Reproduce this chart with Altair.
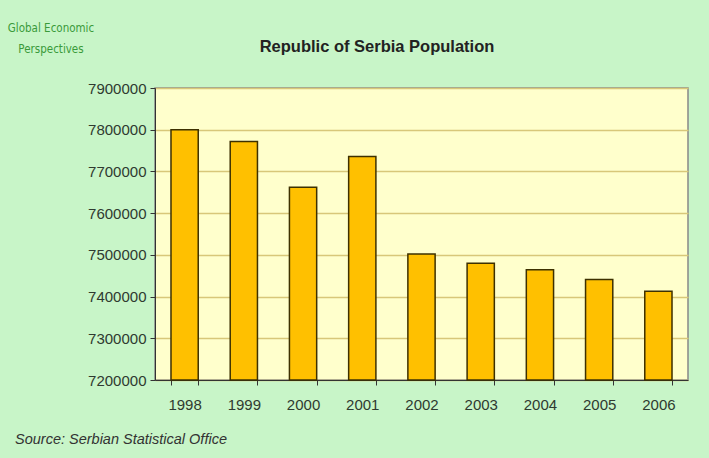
import altair as alt
import pandas as pd

years = ["1998", "1999", "2000", "2001", "2002", "2003", "2004", "2005", "2006"]
population = [7800000, 7772000, 7662000, 7736000, 7502000, 7480000, 7464000, 7441000, 7413000]
y_ticks = [7200000, 7300000, 7400000, 7500000, 7600000, 7700000, 7800000, 7900000]
y_min, y_max = 7200000, 7900000

df = pd.DataFrame({"year": years, "population": population})

label_color = "#2f3a30"

bars = alt.Chart(df).mark_bar(
    color="#ffc000", stroke="#3d3000", strokeWidth=1.5
).encode(
    x=alt.X("year:N", sort=years,
            scale=alt.Scale(paddingInner=0.54, paddingOuter=0.27),
            axis=alt.Axis(title=None, labelAngle=0, tickBand="extent",
                          labelFontSize=15, labelFont="Arial, Liberation Sans",
                          labelColor=label_color, labelPadding=12,
                          domainColor="#333333", tickColor="#333333",
                          tickSize=5, grid=False)),
    y=alt.Y("population:Q",
            scale=alt.Scale(domain=[y_min, y_max], zero=False, nice=False),
            axis=alt.Axis(title=None, values=y_ticks, format="d",
                          labelFontSize=15, labelFont="Arial, Liberation Sans",
                          labelColor=label_color, labelPadding=4,
                          domainColor="#333333", tickColor="#333333",
                          tickSize=5, gridColor="#d8c779", gridWidth=1.5)),
    y2=alt.datum(y_min),
)

def label(text, x, y, **kw):
    return alt.Chart(pd.DataFrame({"t": [text]})).mark_text(**kw).encode(
        text="t:N", x=alt.value(x), y=alt.value(y))

brand_kw = dict(color="#3a9a3a", fontSize=11.5,
                font="Liberation Sans Narrow, DejaVu Sans Condensed, sans-serif",
                align="center", baseline="middle")
brand1 = label("Global Economic", -104, -59, **brand_kw)
brand2 = label("Perspectives", -104, -38, **brand_kw)

title = label("Republic of Serbia Population", 222, -41,
              color="#222222", fontSize=16.5, fontWeight="bold",
              font="Arial, Liberation Sans", align="center", baseline="middle")

source = label("Source: Serbian Statistical Office", -140, 352,
               color="#333333", fontSize=14.5, fontStyle="italic",
               font="Arial, Liberation Sans", align="left", baseline="middle")

chart = alt.layer(bars, brand1, brand2, title, source).properties(
    width=533, height=292,
    background="#c8f5c8",
    padding={"left": 155, "top": 88, "right": 21, "bottom": 78},
    autosize=alt.AutoSizeParams(type="none"),
).configure_view(
    fill="#ffffcc", stroke="#888888", strokeWidth=1.5
)

chart.save("out.html", embed_options={"renderer": "svg", "actions": False})
